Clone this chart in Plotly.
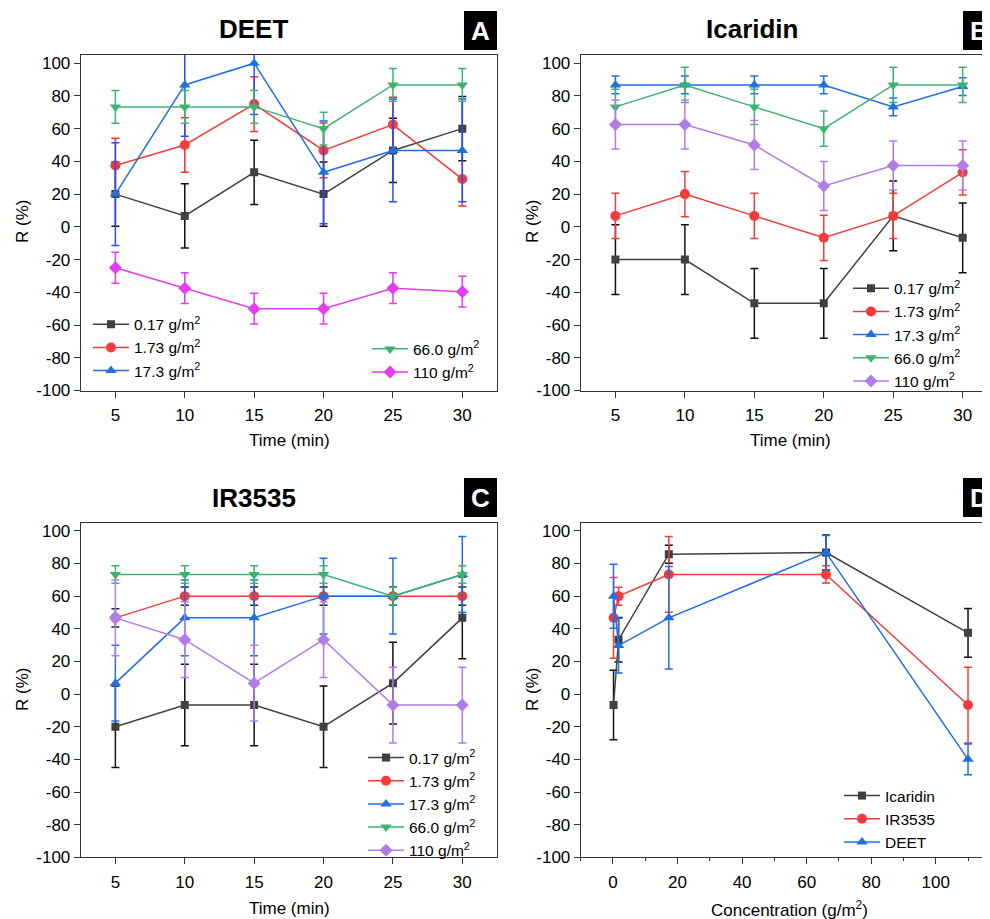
import plotly.graph_objects as go

VW, VH = 990, 919          # browser window
OFF = 8                    # default body margin of the html page
W, H = VW - OFF, VH - OFF  # figure size so it fits the window exactly
FONT = "Liberation Sans, Arial, Helvetica, sans-serif"

# ---------------- data ----------------
TIME = [5, 10, 15, 20, 25, 30]
CONC = [0.17, 1.73, 17.3, 66.0, 110]
DOSE_LABELS = ["0.17 g/m<sup>2</sup>", "1.73 g/m<sup>2</sup>", "17.3 g/m<sup>2</sup>",
               "66.0 g/m<sup>2</sup>", "110 g/m<sup>2</sup>"]
Y_TICKS = [-100, -80, -60, -40, -20, 0, 20, 40, 60, 80, 100]
Y_TICK_TEXT = ["-100", "-80", "-60", "-40", "-20", "0", "20", "40", "60", "80", "100"]
D_TICKS = [0, 20, 40, 60, 80, 100]

# Panel A: DEET
deet_017 = [20, 6.7, 33.3, 20, 46.7, 60]
deet_017_err = [19.6, 19.6, 19.6, 19.6, 19.6, 19.6]
deet_173 = [37.5, 50, 75, 46.7, 62.5, 29.2]
deet_173_err = [16.7, 16.7, 16.7, 16.7, 16.7, 16.5]
deet_173b = [20, 86.7, 100, 33.3, 46.7, 46.7]
deet_173b_err = [31.4, 31.4, 31.4, 31.4, 31.4, 31.4]
deet_660 = [73.3, 73.3, 73.3, 60, 86.7, 86.7]
deet_660_err = [10, 10, 10, 10, 10, 10]
deet_110 = [-25, -37.5, -50, -50, -37.5, -39.6]
deet_110_err = [9.4, 9.4, 9.4, 9.4, 9.4, 9.4]

# Panel B: Icaridin
ica_017 = [-20, -20, -46.7, -46.7, 6.7, -6.7]
ica_017_err = [21.3, 21.3, 21.3, 21.3, 21.3, 21.3]
ica_173 = [6.7, 20, 6.7, -6.7, 6.7, 33.3]
ica_173_err = [13.8, 13.8, 13.8, 13.8, 13.8, 13.8]
ica_173b = [86.7, 86.7, 86.7, 86.7, 73.3, 85.7]
ica_173b_err = [5.4, 5.4, 5.4, 5.4, 5.4, 5.4]
ica_660 = [73.3, 86.7, 73.3, 60, 86.7, 86.7]
ica_660_err = [10.8, 10.8, 10.8, 10.8, 10.8, 10.8]
ica_110 = [62.5, 62.5, 50, 25, 37.5, 37.5]
ica_110_err = [15, 15, 15, 15, 15, 15]

# Panel C: IR3535
ir_017 = [-20, -6.7, -6.7, -20, 6.7, 46.7]
ir_017_err = [25, 25, 25, 25, 25, 25]
ir_173 = [46.7, 60, 60, 60, 60, 60]
ir_173_err = [5.6, 5.6, 5.6, 5.6, 5.6, 5.6]
ir_173b = [6.7, 46.7, 46.7, 60, 60, 73.3]
ir_173b_err = [23.2, 23.2, 23.2, 23.2, 23.2, 23.2]
ir_660 = [73.3, 73.3, 73.3, 73.3, 60, 73.3]
ir_660_err = [5.4, 5.4, 5.4, 5.4, 5.4, 5.4]
ir_110 = [46.7, 33.3, 6.7, 33.3, -6.7, -6.7]
ir_110_err = [23.2, 23.2, 23.2, 23.2, 23.2, 23.2]

# Panel D: 30 min vs concentration
D_NAMES = ["Icaridin", "IR3535", "DEET"]
d_ica = [-6.7, 33.3, 85.7, 86.7, 37.5]
d_ica_err = [21.3, 13.6, 5.5, 10.8, 15]
d_ir = [46.7, 60, 73.3, 73.3, -6.7]
d_ir_err = [24.8, 5.5, 23.2, 5.3, 23.2]
d_deet = [60, 29.7, 46.7, 86.7, -40]
d_deet_err = [19.6, 16.8, 31.4, 10.5, 9.4]

# ---------------- styles ----------------
GRAY = "#404040"
RED = "#f23b3b"
BLUE = "#1f6fe3"
GREEN = "#3cb371"
MAGENTA = "#e43cf0"
LAVENDER = "#b07ce6"
SYMBOLS = ["square", "circle", "triangle-up", "triangle-down", "diamond"]
SIZES = [8, 10, 10, 10, 10]


def px(x):
    return (x - OFF) / W


def py(y):
    return 1 - (y - OFF) / H


fig = go.Figure()


def add(x, y, err, name, color, sym, size, xa, ya, legend, errcolor=None, show=True):
    fig.add_trace(go.Scatter(
        x=x, y=y, name=name, mode="lines+markers",
        line=dict(color=color, width=1.5),
        marker=dict(symbol=sym, size=size, color=color),
        error_y=dict(type="data", array=err, visible=True,
                     color=errcolor or color, thickness=1.5, width=4),
        xaxis=xa, yaxis=ya, legend=legend, showlegend=show,
    ))


# Panel A
a_vals = [(deet_017, deet_017_err), (deet_173, deet_173_err), (deet_173b, deet_173b_err),
          (deet_660, deet_660_err), (deet_110, deet_110_err)]
a_cols = [GRAY, RED, BLUE, GREEN, MAGENTA]
a_err_cols = ["#111111", "#ff3030", "#2050ff", GREEN, MAGENTA]
a_leg = ["legend", "legend", "legend", "legend2", "legend2"]
for i, (v, e) in enumerate(a_vals):
    add(TIME, v, e, DOSE_LABELS[i], a_cols[i], SYMBOLS[i], SIZES[i], "x", "y", a_leg[i], a_err_cols[i])

# Panel B
b_vals = [(ica_017, ica_017_err), (ica_173, ica_173_err), (ica_173b, ica_173b_err),
          (ica_660, ica_660_err), (ica_110, ica_110_err)]
b_cols = [GRAY, RED, BLUE, GREEN, LAVENDER]
b_err_cols = ["#111111", RED, BLUE, GREEN, LAVENDER]
for i, (v, e) in enumerate(b_vals):
    add(TIME, v, e, DOSE_LABELS[i], b_cols[i], SYMBOLS[i], SIZES[i], "x2", "y2", "legend3", b_err_cols[i])

# Panel C
c_vals = [(ir_017, ir_017_err), (ir_173, ir_173_err), (ir_173b, ir_173b_err),
          (ir_660, ir_660_err), (ir_110, ir_110_err)]
c_err_cols = ["#111111", "#222222", BLUE, GREEN, LAVENDER]
for i, (v, e) in enumerate(c_vals):
    add(TIME, v, e, DOSE_LABELS[i], b_cols[i], SYMBOLS[i], SIZES[i], "x3", "y3", "legend4", c_err_cols[i])

# Panel D
d_vals = [(d_ica, d_ica_err), (d_ir, d_ir_err), (d_deet, d_deet_err)]
d_cols = [GRAY, RED, BLUE]
d_err_cols = ["#111111", RED, BLUE]
for i, (v, e) in enumerate(d_vals):
    add(CONC, v, e, D_NAMES[i], d_cols[i], SYMBOLS[i], SIZES[i], "x4", "y4", "legend5", d_err_cols[i])

# ---------------- axes ----------------
AX = dict(showline=True, linecolor="#333333", linewidth=1, ticks="outside", ticklen=6,
          tickwidth=1, tickcolor="#333333", showgrid=False, zeroline=False,
          tickfont=dict(family=FONT, size=17, color="black"))

xA = [px(80.7), px(497)]
xB = [px(580.7), 1.0]
yTop = [py(390.5), py(55)]
yBot = [py(857.3), py(522.7)]
B_RIGHT = 30 + (VW - 962.7) / 13.88
D_RIGHT = (VW - 612.7) / 3.23
XSTAND = 3

yax = dict(AX, range=[-100, 105], tickmode="array", tickvals=Y_TICKS, ticktext=Y_TICK_TEXT)
fig.update_layout(
    xaxis=dict(AX, domain=xA, range=[2.5, 32.5], tickvals=TIME, tickmode="array", mirror=True,
               anchor="y", ticklabelstandoff=XSTAND),
    yaxis=dict(yax, domain=yTop, mirror=True, anchor="x"),
    xaxis2=dict(AX, domain=xB, range=[2.5, B_RIGHT], tickvals=TIME, tickmode="array", mirror=True,
                anchor="y2", ticklabelstandoff=XSTAND),
    yaxis2=dict(yax, domain=yTop, mirror=False, anchor="x2"),
    xaxis3=dict(AX, domain=xA, range=[2.5, 32.5], tickvals=TIME, tickmode="array", mirror=True,
                anchor="y3", ticklabelstandoff=XSTAND),
    yaxis3=dict(yax, domain=yBot, mirror=True, anchor="x3"),
    xaxis4=dict(AX, domain=xB, range=[-10, D_RIGHT], tickvals=D_TICKS, tickmode="array", mirror=True,
                anchor="y4", ticklabelstandoff=XSTAND,
                minor=dict(dtick=10, tick0=0, ticks="outside", ticklen=3, tickcolor="#333333")),
    yaxis4=dict(yax, domain=yBot, mirror=False, anchor="x4"),
)

LEG = dict(font=dict(family=FONT, size=15.5, color="black"), bgcolor="rgba(0,0,0,0)",
           xanchor="left", yanchor="top", borderwidth=0, itemclick=False, itemwidth=36)
fig.update_layout(
    legend=dict(LEG, x=px(88), y=py(307.7)),
    legend2=dict(LEG, x=px(367), y=py(332.3)),
    legend3=dict(LEG, x=px(848), y=py(271.7)),
    legend4=dict(LEG, x=px(363), y=py(741)),
    legend5=dict(LEG, x=px(839), y=py(779)),
)

# ---------------- text ----------------
ann = []


def text(x, y, s, size=17, bold=False, color="black", angle=0):
    ann.append(dict(x=px(x), y=py(y), xref="paper", yref="paper", text=s, showarrow=False,
                    xanchor="center", yanchor="middle", textangle=angle,
                    font=dict(family=FONT, size=size, color=color,
                              weight="bold" if bold else "normal")))


TITLES = ["DEET", "Icaridin", "IR3535"]
text(253, 29, TITLES[0], 26, True)
text(752, 29, TITLES[1], 26, True)
text(254, 498, TITLES[2], 26, True)

for (x0, y0, x1, y1, letter) in [(464, 11, 497, 50, "A"), (963, 11, 1000, 50, "B"),
                                  (464, 478, 497, 517, "C"), (963, 478, 1000, 517, "D")]:
    fig.add_shape(type="rect", xref="paper", yref="paper", x0=px(x0), x1=px(x1),
                  y0=py(y1), y1=py(y0), fillcolor="black", line=dict(width=0))
    text(x0 + 16.5, (y0 + y1) / 2, letter, 26, True, "white")

text(22, 222, "R (%)", 17, angle=-90)
text(532, 222, "R (%)", 17, angle=-90)
text(22, 690, "R (%)", 17, angle=-90)
text(532, 690, "R (%)", 17, angle=-90)
text(289, 441, "Time (min)", 17)
text(790, 441, "Time (min)", 17)
text(289, 908, "Time (min)", 17)
text(789, 909, "Concentration (g/m<sup>2</sup>)", 17)

fig.update_layout(annotations=ann, width=W, height=H,
                  margin=dict(l=0, r=0, t=0, b=0, autoexpand=False),
                  paper_bgcolor="white", plot_bgcolor="white")

fig.write_html("out.html")
